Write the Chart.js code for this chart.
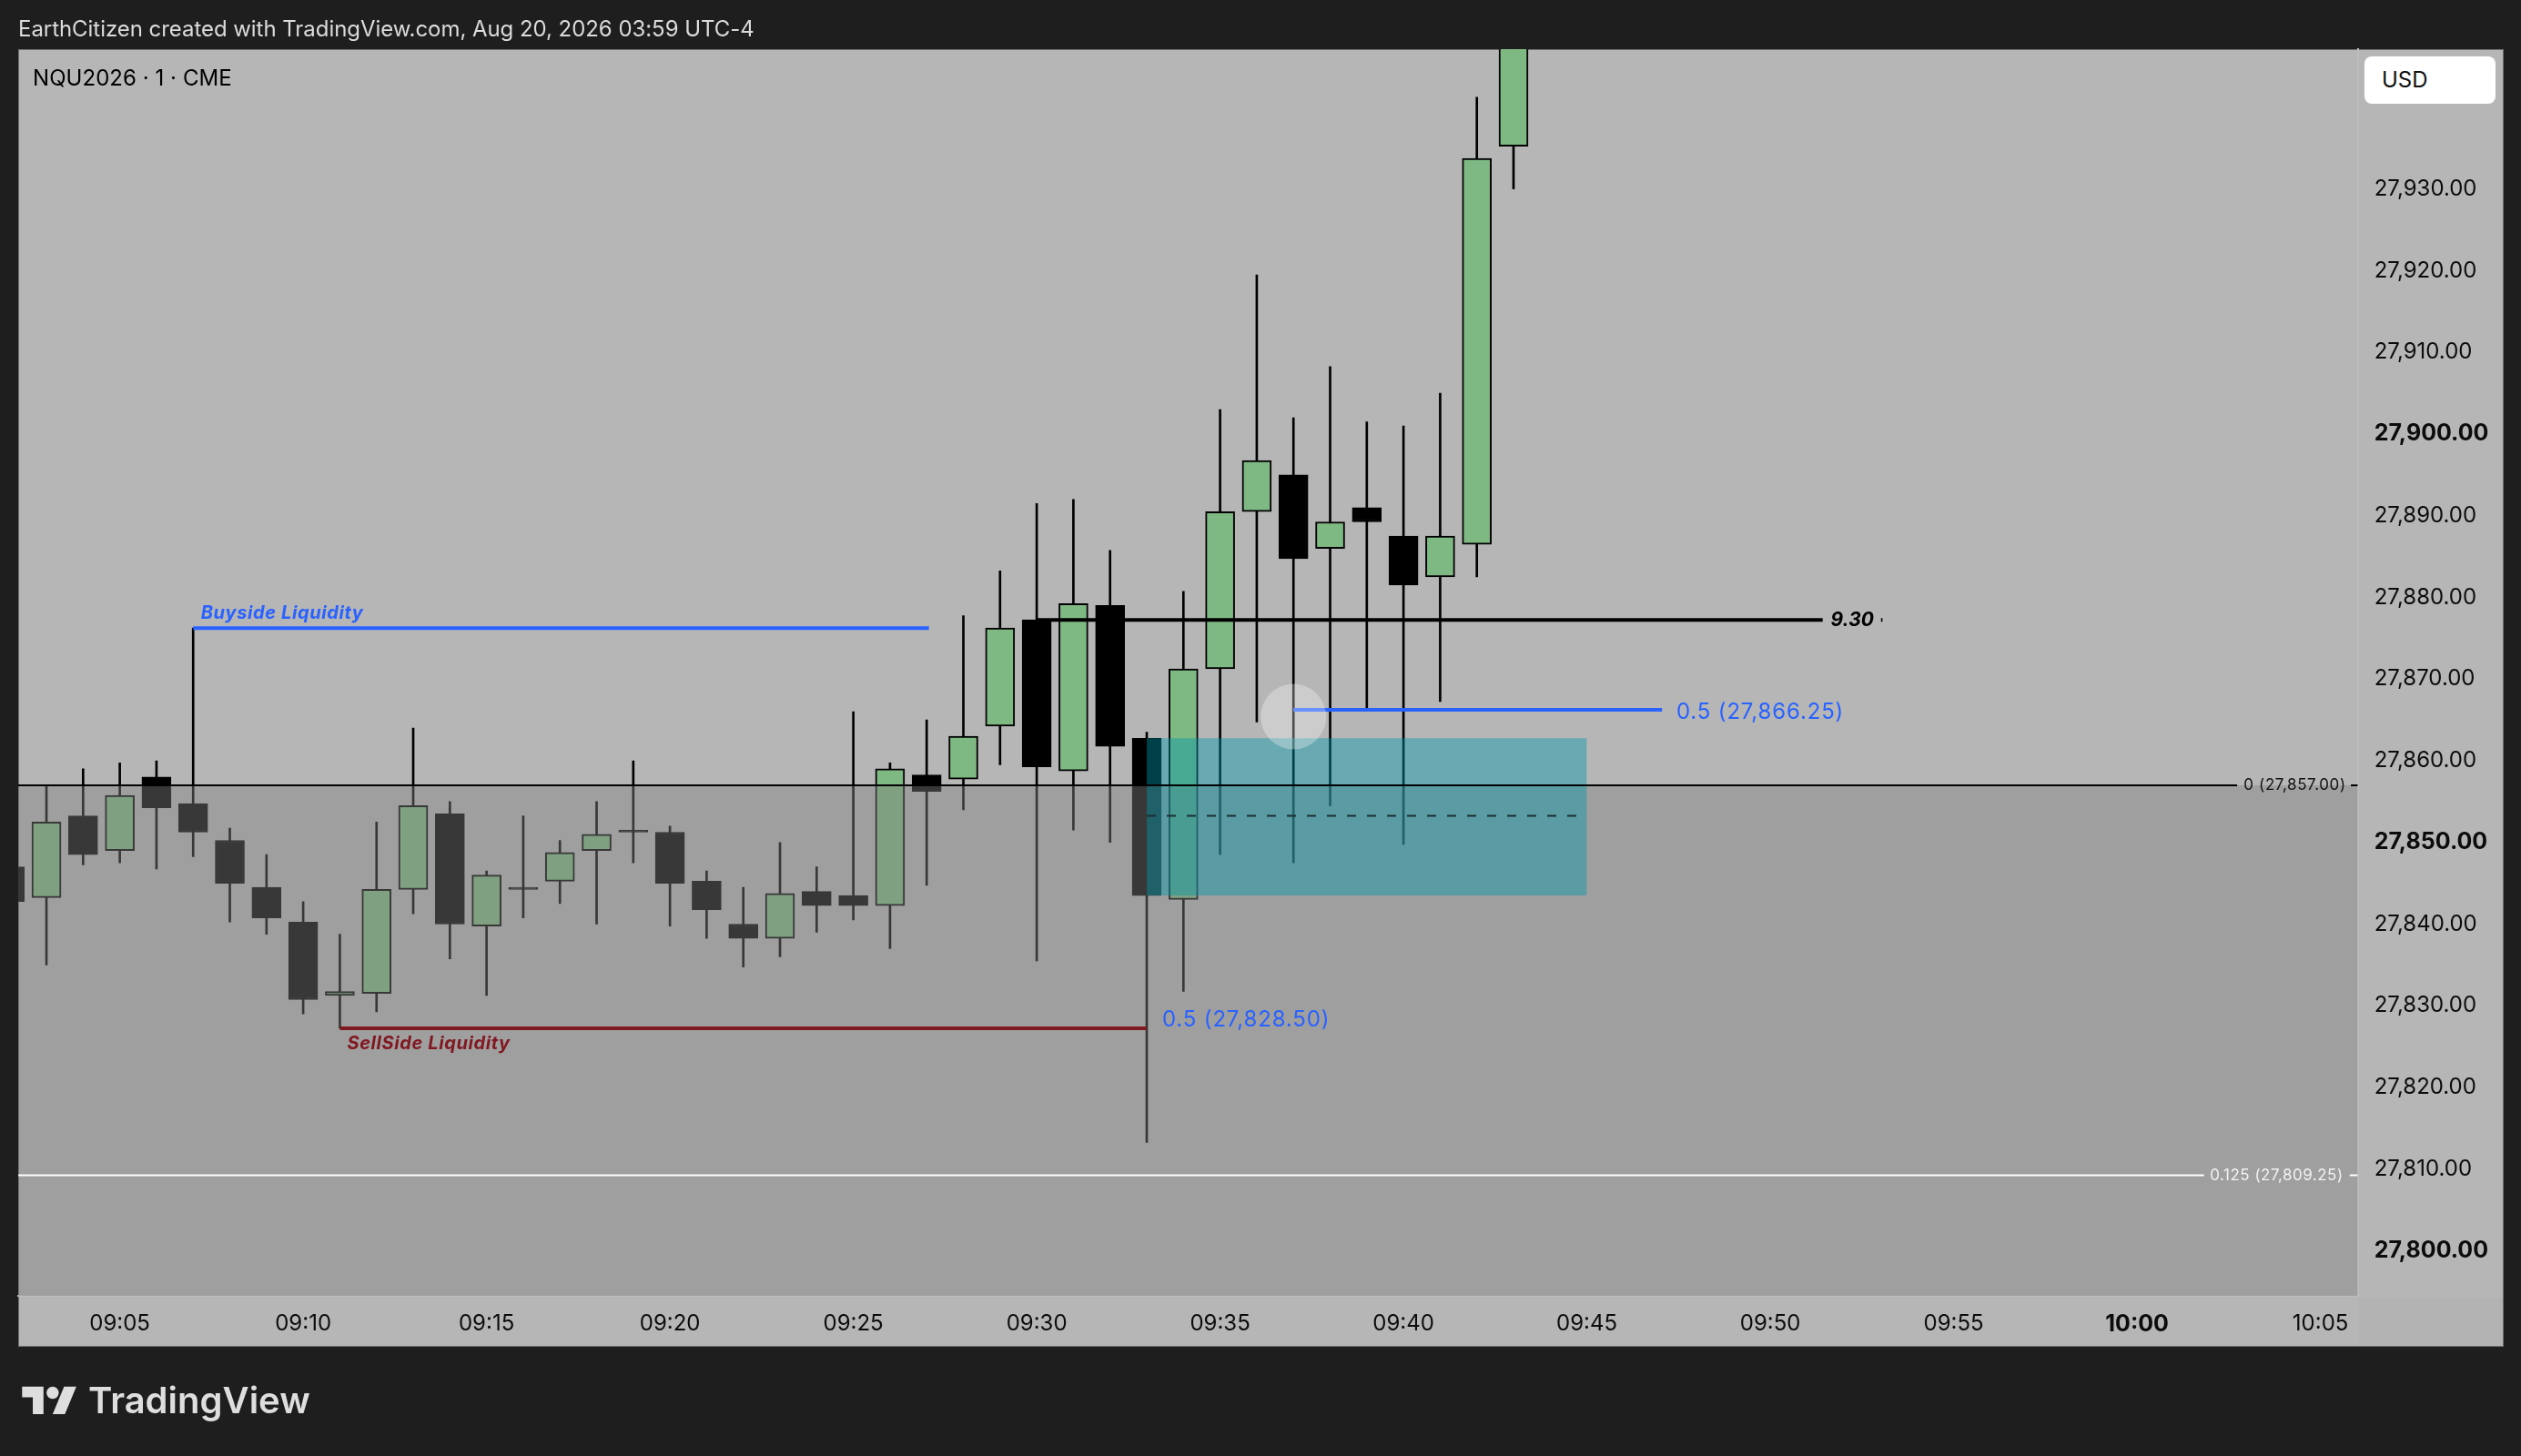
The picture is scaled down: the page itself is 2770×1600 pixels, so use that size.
<!DOCTYPE html>
<html>
<head>
<meta charset="utf-8">
<title>NQU2026 1m</title>
<script src="https://cdn.jsdelivr.net/npm/chart.js@4"></script>
<style>
    html, body { margin: 0; padding: 0; background: #1e1e1e; }
    body { position: relative; width: 2770px; height: 1600px; overflow: hidden; font-family: Inter, sans-serif; }
    .abs { position: absolute; white-space: nowrap; }
    #frame { left: 20px; top: 54px; width: 2729px; height: 1424px; background: #b6b6b6; border: 1px solid #6e6e6e; box-sizing: content-box; }
    #corner { left: 2592px; top: 1426px; width: 158px; height: 53px; background: #b3b3b3; }
    canvas { position: absolute; left: 0; top: 0; }
    #header { left: 20px; top: 17px; font-size: 24px; line-height: 30px; color: #dbdbdb; letter-spacing: -0.05px; }
    #symbol { left: 36px; top: 71px; font-size: 24px; line-height: 30px; color: #000; letter-spacing: 0.05px; }
    #usd { left: 2598px; top: 62px; width: 144px; height: 52px; background: #fff; border-radius: 8px; font-size: 24px; line-height: 52px; color: #111; text-indent: 19px; }
    #logo { left: 24px; top: 1517px; width: 61px; height: 47px; }
    #brand { left: 97px; top: 1514px; font-size: 40px; line-height: 50px; font-weight: 600; color: #dedede; }
</style>
</head>
<body>
<div id="frame" class="abs"></div>
<div id="corner" class="abs"></div>
<canvas id="chart" width="2770" height="1600"></canvas>
<div id="header" class="abs">EarthCitizen created with TradingView.com, Aug 20, 2026 03:59 UTC-4</div>
<div id="symbol" class="abs">NQU2026 · 1 · CME</div>
<div id="usd" class="abs">USD</div>
<svg id="logo" class="abs" viewBox="0 0 36 28"><path fill="#dedede" d="M14 22H7V11H0V4h14v18zM28 22h-8l7.5-18h8L28 22z"/><circle fill="#dedede" cx="20" cy="8" r="4"/></svg>
<div id="brand" class="abs">TradingView</div>

<script>
const barTimes = ['09:02','09:03','09:04','09:05','09:06','09:07','09:08','09:09','09:10','09:11','09:12','09:13','09:14','09:15',
    '09:16','09:17','09:18','09:19','09:20','09:21','09:22','09:23','09:24','09:25','09:26','09:27','09:28','09:29',
    '09:30','09:31','09:32','09:33','09:34','09:35','09:36','09:37','09:38','09:39','09:40','09:41','09:42','09:43'];
const opens = [27847,27843.25,27853.25,27849,27858,27854.75,27850.25,27844.5,27840.25,27831.25,27831.5,27844.25,27853.5,27839.75,
    27844.5,27845.25,27849,27851.5,27851.25,27845.25,27840,27838.25,27844,27843.5,27842.25,27858.25,27857.75,27864.25,
    27877.25,27858.75,27879,27862.75,27843,27871.25,27890.5,27895,27886,27891,27887.5,27882.5,27886.5,27935.25];
const highs = [27849,27857,27859,27859.75,27860,27876.25,27851.75,27848.5,27842.75,27838.75,27852.5,27864,27855,27846.5,
    27853.25,27850.25,27855,27860,27852,27846.5,27844.5,27850,27847,27866,27859.75,27865,27877.75,27883.25,
    27891.5,27892,27885.75,27863.5,27880.75,27903,27919.5,27902,27908.25,27901.5,27901,27905,27941.25,27955];
const lows = [27841,27835,27847.25,27847.5,27846.75,27848.25,27840.25,27838.75,27829,27827.25,27829.25,27841.25,27835.75,27831.25,
    27840.75,27842.5,27840,27847.5,27839.75,27838.25,27834.75,27836,27839,27840.5,27837,27844.75,27854,27859.5,
    27835.5,27851.5,27850,27813.25,27831.75,27848.5,27864.75,27847.5,27854.5,27866.25,27849.75,27867.25,27882.5,27930];
const closes = [27842.75,27852.5,27848.5,27855.75,27854.25,27851.25,27845,27840.75,27830.75,27831.75,27844.25,27854.5,27840,27846,
    27844.25,27848.75,27851,27851.25,27845,27841.75,27838.25,27843.75,27842.25,27842.25,27859,27856.25,27863,27876.25,
    27859.25,27879.25,27861.75,27843.5,27871.25,27890.5,27896.75,27884.75,27889.25,27889.25,27881.5,27887.5,27933.75,27952];

const priceTicks = [27800,27810,27820,27830,27840,27850,27860,27870,27880,27890,27900,27910,27920,27930];
const boldPrices = [27800,27850,27900];
const timeTicks = ['09:05','09:10','09:15','09:20','09:25','09:30','09:35','09:40','09:45','09:50','09:55','10:00','10:05'];
const boldTimes = ['10:00'];

const viewStart = 2.23, viewEnd = 66.02;      // minutes after 09:00
const priceMin = 27794.48, priceMax = 27947.13;

const zeroLevel = 27857, lowLevel = 27809.25;
const buyside = 27876.25, sellside = 27827.25, openLine = 27877.25, midUpper = 27866.25;
const boxTop = 27862.75, boxBottom = 27843.5, boxMid = 27853.25;

const toMin = t => { const [h, m] = t.split(':'); return (h - 9) * 60 + Number(m); };
const upColor = '#7eb882', downColor = '#000000', blue = '#2962ff', red = '#801922';

function hLine(y, x1, x2, color, width, order, dash) {
    return {
        type: 'line', data: [{x: x1, y}, {x: x2, y}], borderColor: color, borderWidth: width,
        borderDash: dash || [], pointRadius: 0, order, fill: false, borderCapStyle: 'butt'
    };
}

// text sitting on the drawings, x in minutes and y in price
const noteLabels = [
    {text: 'Buyside Liquidity', x: 7.21, y: 27878.05, font: 'italic 700 20px Inter', color: blue, spacing: '0.6px'},
    {text: 'SellSide Liquidity', x: 11.2, y: 27825.4, font: 'italic 700 20px Inter', color: red, spacing: '0.6px'},
    {text: '9.30', x: 51.65, y: 27877.2, font: 'italic 700 21px Inter', color: '#000'},
    {text: '0.5 (27,866.25)', x: 47.44, y: 27865.95, font: '400 24px Inter', color: blue, spacing: '0.85px'},
    {text: '0.5 (27,828.50)', x: 33.42, y: 27828.25, font: '400 24px Inter', color: blue, spacing: '0.85px'},
    {text: '0 (27,857.00)', x: 62.91, y: 27857, font: '400 17px Inter', color: '#111', spacing: '0.6px'},
    {text: '0.125 (27,809.25)', x: 61.99, y: 27809.25, font: '400 17px Inter', color: '#f2f2f2', spacing: '0.5px'}
];

const labelPlugin = {
    id: 'noteLabels',
    afterDatasetsDraw(chart) {
        const {ctx, scales} = chart;
        ctx.save();
        ctx.textBaseline = 'middle';
        ctx.textAlign = 'left';
        noteLabels.forEach(n => {
            ctx.font = n.font;
            ctx.fillStyle = n.color;
            ctx.letterSpacing = n.spacing || '0px';
            ctx.fillText(n.text, scales.x.getPixelForValue(n.x), scales.y.getPixelForValue(n.y));
        });
        ctx.restore();
    }
};

const xs = barTimes.map(toMin);

new Chart(document.getElementById('chart'), {
    type: 'bar',
    plugins: [labelPlugin],
    data: {
        datasets: [
            {
                label: 'wicks', grouped: false, order: 9, barThickness: 2, backgroundColor: '#000',
                data: xs.map((x, i) => ({x, y: [lows[i], highs[i]]}))
            },
            {
                label: 'bodies', grouped: false, order: 8, barThickness: 32, borderSkipped: false, borderWidth: 2,
                borderColor: '#000',
                backgroundColor: xs.map((x, i) => closes[i] >= opens[i] ? upColor : downColor),
                data: xs.map((x, i) => ({x, y: [opens[i], closes[i]]}))
            },
            // grey wash below the 0 level
            {
                type: 'line', order: 7, pointRadius: 0, borderWidth: 0, fill: 'start',
                backgroundColor: 'rgba(129,129,129,0.435)',
                data: [{x: viewStart, y: zeroLevel}, {x: viewEnd, y: zeroLevel}]
            },
            // teal block
            {
                type: 'line', order: 6, pointRadius: 0, borderWidth: 0, fill: {value: boxBottom},
                backgroundColor: 'rgba(0,151,170,0.423)',
                data: [{x: 33, y: boxTop}, {x: 45, y: boxTop}]
            },
            hLine(boxMid, 33, 44.75, '#1b2f33', 2, 5, [10, 12]),
            hLine(zeroLevel, viewStart, 62.73, '#000', 2, 4),
            hLine(zeroLevel, 65.83, viewEnd, '#000', 2, 4),
            hLine(lowLevel, viewStart, 61.83, '#ffffff', 2, 4),
            hLine(lowLevel, 65.8, viewEnd, '#ffffff', 2, 4),
            hLine(buyside, 7, 27.06, blue, 4, 3),
            hLine(sellside, 11, 33, red, 4, 3),
            hLine(midUpper, 37, 47.05, blue, 4, 3),
            hLine(openLine, 30, 51.43, '#000', 4, 3),
            hLine(openLine, 53.02, 53.06, '#000', 4, 3),
            // cursor highlight
            {
                type: 'bubble', order: 1, borderWidth: 0, backgroundColor: 'rgba(255,255,255,0.3)',
                data: [{x: 37, y: 27865.4, r: 36}]
            }
        ]
    },
    options: {
        responsive: false,
        devicePixelRatio: 1,
        animation: false,
        events: [],
        layout: {autoPadding: false, padding: {left: 20, top: 54, right: 20, bottom: 121}},
        plugins: {legend: {display: false}, tooltip: {enabled: false}, title: {display: false}},
        scales: {
            x: {
                type: 'linear', position: 'bottom', min: viewStart, max: viewEnd, offset: false,
                afterBuildTicks: s => { s.ticks = timeTicks.map(t => ({value: toMin(t)})); },
                afterFit: s => { s.height = 55; },
                grid: {display: false, drawTicks: false, offset: false},
                border: {color: '#bdbdbd', width: 2},
                ticks: {
                    autoSkip: false, maxRotation: 0, padding: 16, color: '#0c0c0c',
                    font: c => {
                        const bold = c.index !== undefined && boldTimes.includes(timeTicks[c.index]);
                        return {family: 'Inter', size: bold ? 25 : 24, weight: bold ? '700' : '400'};
                    },
                    callback: (v, i) => timeTicks[i]
                }
            },
            y: {
                type: 'linear', position: 'right', min: priceMin, max: priceMax,
                afterBuildTicks: s => { s.ticks = priceTicks.map(v => ({value: v})); },
                afterFit: s => { s.width = 159.3; },
                grid: {display: false, drawTicks: false},
                border: {color: '#bdbdbd', width: 2},
                ticks: {
                    autoSkip: false, padding: 18, color: '#0c0c0c', crossAlign: 'near',
                    font: c => {
                        const bold = c.tick && boldPrices.includes(c.tick.value);
                        return {family: 'Inter', size: bold ? 25 : 24, weight: bold ? '700' : '400'};
                    },
                    callback: v => v.toLocaleString('en-US', {minimumFractionDigits: 2, maximumFractionDigits: 2})
                }
            }
        }
    }
});
</script>
</body>
</html>
